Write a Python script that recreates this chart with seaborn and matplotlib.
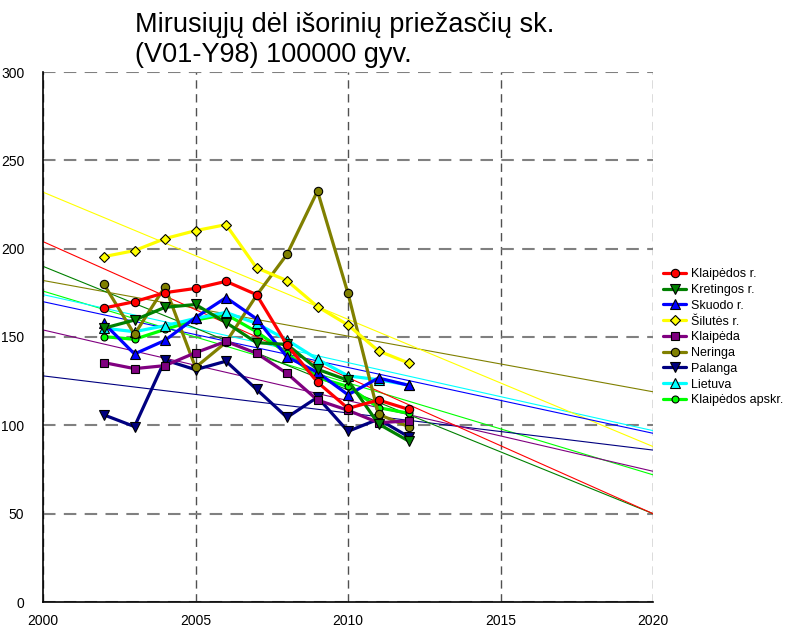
import matplotlib.pyplot as plt
import numpy as np
import pandas as pd
import seaborn as sns

# 1. Data
years = [2002, 2003, 2004, 2005, 2006, 2007, 2008, 2009, 2010, 2011, 2012]

names = ['Klaipėdos r.', 'Kretingos r.', 'Skuodo r.', 'Šilutės r.', 'Klaipėda',
         'Neringa', 'Palanga', 'Lietuva', 'Klaipėdos apskr.']

klaipedos_r = [166.4, 170.0, 175.1, 177.5, 181.5, 174.0, 145.5, 124.4, 109.6, 114.3, 109.0]
kretingos_r = [155.0, 159.6, 166.8, 168.4, 158.2, 146.8, 145.8, 131.7, 125.5, 100.8, 91.0]
skuodo_r = [157.7, 140.4, 148.1, 161.0, 172.3, 160.3, 138.7, 130.0, 117.3, 126.8, 122.6]
siluties_r = [195.5, 198.9, 205.7, 210.2, 213.6, 189.2, 181.9, 167.2, 156.8, 142.1, 135.2]
klaipeda = [135.5, 132.1, 133.8, 141.1, 147.5, 140.8, 129.4, 114.3, 108.5, 101.5, 102.5]
neringa = [179.8, 151.5, 178.5, 132.8, 147.0, 173.5, 196.8, 232.6, 174.7, 106.2, 99.2]
palanga = [105.9, 99.3, 137.0, 131.5, 136.3, 120.4, 104.5, 115.9, 96.6, 103.5, 93.4]
lietuva = [155.0, 153.0, 156.4, 160.5, 163.9, 157.7, 148.3, 137.4, 128.0, 125.8, 122.8]
klaipedos_apskr = [150.2, 148.7, 154.3, 159.6, 162.8, 153.0, 140.8, 127.0, 122.0, 110.0, 106.8]

series = [klaipedos_r, kretingos_r, skuodo_r, siluties_r, klaipeda,
          neringa, palanga, lietuva, klaipedos_apskr]

# linear trend lines, values at 2000 and 2020
trend_years = [2000, 2020]
trend_start = [204, 190, 170, 232, 154, 182, 128, 174, 176]
trend_end = [50, 50, 95.5, 88, 74, 119, 86, 97, 72]

colors = ['#ff0000', '#008000', '#0000ff', '#ffff00', '#800080',
          '#808000', '#000080', '#00ffff', '#00ff00']
markers = ['o', 'v', '^', 'D', 's', 'o', 'v', '^', 'o']
msizes = [6, 6.5, 6.5, 4.8, 5.5, 6, 6.5, 6.5, 5]

# 2. Long table
df = pd.DataFrame({
    'year': np.tile(years, len(names)),
    'value': np.concatenate(series),
    'region': np.repeat(names, len(years)),
})

# 3. Figure
sns.set_style("white")
plt.rcParams['font.family'] = ['Liberation Sans', 'DejaVu Sans']
plt.rcParams['text.color'] = 'black'

fig = plt.figure(figsize=(7.85, 6.3), dpi=100)
ax = fig.add_axes([43 / 785, 28 / 630, 610 / 785, 530 / 630])

# trend lines first (underneath)
for i in reversed(range(len(names))):
    sns.lineplot(x=trend_years, y=[trend_start[i], trend_end[i]], color=colors[i],
                 linewidth=0.8, ax=ax, legend=False)

# series drawn last-to-first, so the first legend entry ends up on top
handles = {}
for i in reversed(range(len(names))):
    name = names[i]
    sub = df[df['region'] == name]
    sns.lineplot(data=sub, x='year', y='value', color=colors[i], linewidth=2.3,
                 marker=markers[i], markersize=msizes[i], markeredgecolor='black',
                 markeredgewidth=0.8, label=name, ax=ax)
    handles[name] = ax.get_lines()[-1]

ax.set_xlim(2000, 2020)
ax.set_ylim(0, 300)
ax.set_xticks(range(2000, 2021, 5))
ax.set_xticks(range(2000, 2021), minor=True)
ax.set_yticks(range(0, 301, 50))
ax.set_yticks(range(0, 301, 10), minor=True)
ax.set_xlabel('')
ax.set_ylabel('')

ax.tick_params(axis='both', which='major', direction='out', length=10, width=1,
               labelsize=10, colors='black')
ax.tick_params(axis='both', which='minor', direction='out', length=5, width=1,
               colors='black')
ax.tick_params(axis='x', which='major', length=5)

ax.xaxis.grid(True, linestyle=(0, (6, 4)), color='#505050', linewidth=1.0)
ax.yaxis.grid(True, linestyle=(0, (6, 4)), color='#808080', linewidth=1.5)
ax.set_axisbelow(True)

for side in ['top', 'right']:
    ax.spines[side].set_visible(False)
for side in ['left', 'bottom']:
    ax.spines[side].set_color('black')
    ax.spines[side].set_linewidth(1.2)

ax.legend([handles[n] for n in names], names,
          loc='upper left', bbox_to_anchor=(657 / 785, 1 - 262 / 630),
          bbox_transform=fig.transFigure, frameon=False, fontsize=9,
          handlelength=1.85, handletextpad=0.4, labelspacing=0.3, borderpad=0)

fig.text(135 / 785, 1 - 12 / 630,
         'Mirusiųjų dėl išorinių priežasčių sk.\n(V01-Y98) 100000 gyv.',
         ha='left', va='top', fontsize=19.5, linespacing=1.2)

plt.savefig('out.png', dpi=100)
plt.close()
